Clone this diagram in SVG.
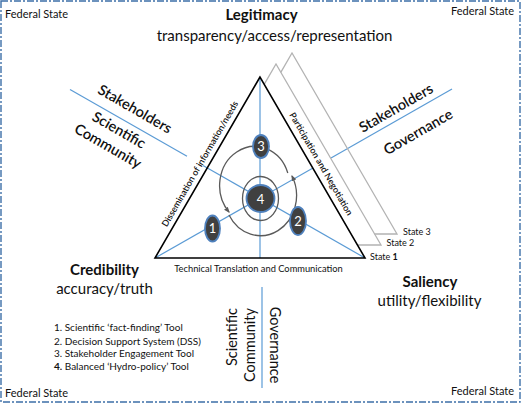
<svg xmlns="http://www.w3.org/2000/svg" width="521" height="403" viewBox="0 0 521 403">
<defs>
<style>
text{font-family:Lato,"Open Sans","Liberation Sans",sans-serif;fill:#111}
.fs{font-size:11px}
.head{font-size:15px;font-weight:bold;text-anchor:middle}
.sub{font-size:15px;text-anchor:middle}
.rot{font-size:14.5px;font-weight:600;text-anchor:middle}
.vert{font-size:14.5px;text-anchor:middle}
.side{font-size:9px;font-weight:600;text-anchor:middle}
.base{font-size:9.3px;text-anchor:middle}
.state{font-size:9px}
.list{font-size:10px}
.blue{stroke:#5b9bd5;stroke-width:1.2;fill:none}
.gray{stroke:#b3b3b3;stroke-width:1.3;fill:none}
.ring{stroke:#5a5a5a;stroke-width:1.3;fill:none}
.tool{fill:#404040;stroke:#4f81bd;stroke-width:1.8}
.num{fill:#fff;font-size:13px;text-anchor:middle}
</style>
<marker id="ah" viewBox="0 0 10 10" refX="8" refY="5" markerWidth="6" markerHeight="6" orient="auto" markerUnits="userSpaceOnUse">
<path d="M0,1 L10,5 L0,9 Z" fill="#5a5a5a"/>
</marker>
</defs>
<rect x="1" y="1" width="519" height="401" fill="#fff" stroke="#3d6fa8" stroke-width="1.4" stroke-dasharray="7 2 2 2"/>

<g id="connectors">
<line class="blue" x1="260" y1="77" x2="260" y2="258"/>
<line class="blue" x1="155" y1="258" x2="313" y2="168"/>
<line class="blue" x1="331" y1="158" x2="452" y2="89"/>
<line class="blue" x1="365" y1="258" x2="203" y2="165.4"/>
<line class="blue" x1="187" y1="156.3" x2="70" y2="89.5"/>
<line class="blue" x1="262" y1="287" x2="262" y2="388"/>
<path class="gray" d="M264.2,84.3 L276,64 L381,245 L357.5,245"/>
<path class="gray" d="M280.8,72.3 L292,53 L397,234 L374.6,234"/>
<path class="ring" d="M287.8,173 A35,39 0 1 0 229,212" marker-end="url(#ah)"/>
<path class="ring" d="M229,215 A35,39 0 0 0 292,176" marker-end="url(#ah)"/>
<ellipse class="ring" cx="260.5" cy="198.5" rx="18" ry="22"/>
</g>

<g id="triangle">
<path d="M260,77 L155,258 L365,258 Z" fill="none" stroke="#000" stroke-width="1.6" stroke-linejoin="miter"/>
<text class="side" transform="translate(200,164) rotate(-60)" dy="3">Dissemination of information/needs</text>
<text class="side" transform="translate(321,164) rotate(60)" dy="3">Participation and Negotiation</text>
<text class="base" x="258.5" y="271.5">Technical Translation and Communication</text>
</g>

<g id="states">
<text class="state" x="403" y="235">State 3</text>
<text class="state" x="386.5" y="246">State 2</text>
<text class="state" x="370" y="260">State <tspan font-weight="bold">1</tspan></text>
</g>

<g id="tool3"><ellipse class="tool" cx="261" cy="146.5" rx="8" ry="11.5"/><text class="num" x="261" y="151">3</text></g>
<g id="tool4"><ellipse class="tool" cx="260.5" cy="198.5" rx="14" ry="13.5"/><text class="num" x="260.5" y="203.5" font-size="14">4</text></g>
<g id="tool1"><ellipse class="tool" cx="212.5" cy="228.5" rx="7.5" ry="13"/><text class="num" x="212.5" y="233">1</text></g>
<g id="tool2"><ellipse class="tool" cx="298" cy="221" rx="8" ry="14"/><text class="num" x="298" y="225.5">2</text></g>

<g id="legitimacy">
<text class="head" x="261.5" y="20">Legitimacy</text>
<text class="sub" x="274.5" y="41">transparency/access/representation</text>
</g>
<g id="credibility">
<text class="head" x="104.5" y="275">Credibility</text>
<text class="sub" x="104.5" y="294">accuracy/truth</text>
</g>
<g id="saliency">
<text class="head" x="430" y="287">Saliency</text>
<text class="sub" x="429.5" y="306">utility/flexibility</text>
</g>

<g id="upper-left">
<text class="rot" transform="translate(135,109) rotate(30)" dy="5">Stakeholders</text>
<text class="rot" transform="translate(119,130) rotate(30)" dy="5">Scientific</text>
<text class="rot" transform="translate(108,146) rotate(30)" dy="5">Community</text>
</g>
<g id="upper-right">
<text class="rot" transform="translate(396,108) rotate(-30)" dy="5">Stakeholders</text>
<text class="rot" transform="translate(418,132) rotate(-30)" dy="5">Governance</text>
</g>
<g id="bottom">
<text class="vert" transform="translate(232,337) rotate(-90)" dy="5">Scientific</text>
<text class="vert" transform="translate(250,345) rotate(-90)" dy="5">Community</text>
<text class="vert" transform="translate(275,345) rotate(90)" dy="5">Governance</text>
</g>

<g id="legend">
<text class="list" x="54" y="331">1. Scientific ‘fact-finding’ Tool</text>
<text class="list" x="54" y="344.5">2. Decision Support System (DSS)</text>
<text class="list" x="54" y="357">3. Stakeholder Engagement Tool</text>
<text class="list" x="54" y="369.5"><tspan font-weight="bold">4.</tspan> Balanced ‘Hydro-policy’ Tool</text>
</g>

<g id="federal">
<text class="fs" x="5" y="18">Federal State</text>
<text class="fs" x="451" y="15">Federal State</text>
<text class="fs" x="5" y="397">Federal State</text>
<text class="fs" x="451" y="395">Federal State</text>
</g>
</svg>
